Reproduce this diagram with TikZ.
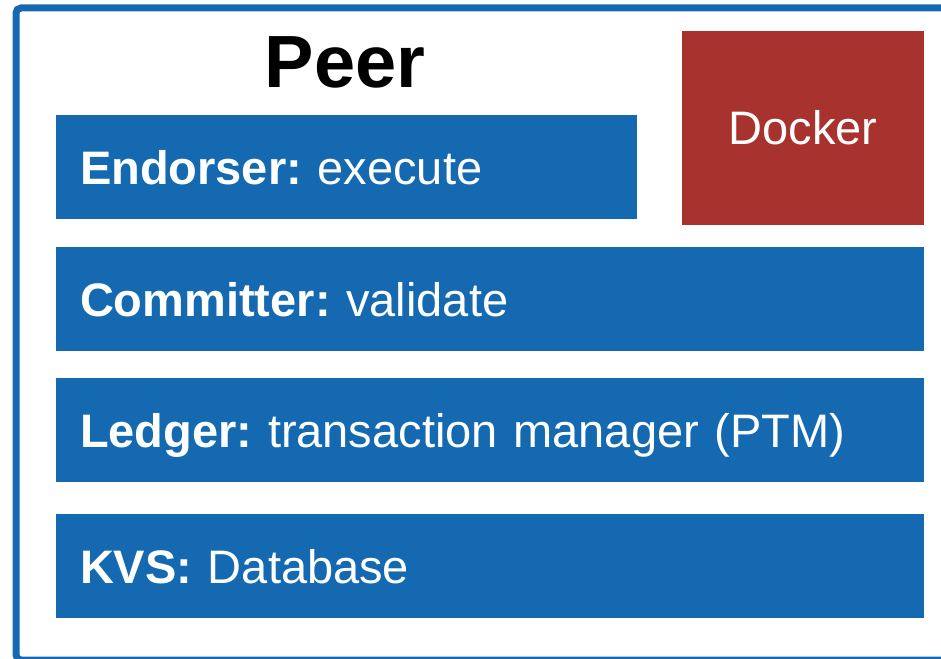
\documentclass[tikz,border=0pt]{standalone}
\usepackage{fontspec}
\setmainfont{Liberation Sans}
\usetikzlibrary{positioning}
\definecolor{peerblue}{RGB}{20,105,176}
\definecolor{dockerred}{RGB}{168,50,46}
\tikzset{every layer/.style={fill=peerblue,text=white,inner xsep=24pt,inner ysep=0pt,
                             text height=34pt,text depth=0pt,minimum height=104pt,align=left,
                             font=\fontsize{47}{56}\selectfont\frenchspacing},
         container/.style={draw=peerblue,line width=7pt,rounded corners=5pt},
         engine/.style={fill=dockerred,text=white,minimum width=242pt,minimum height=194pt,
                        font=\fontsize{47}{56}\selectfont},
        }

\begin{document}
\begin{tikzpicture}[x=1pt,y=-1pt]
        \useasboundingbox (0,0) rectangle (941,658);
        \draw[container](16,8) rectangle (960,660);
        \node[font=\bfseries\fontsize{74}{88}\selectfont,text height=53pt,text depth=0pt,inner sep=0pt](peer)at(345,61.5){Peer};
        \node[every layer,text width=533pt](endorser)at(346.5,167){\textbf{Endorser:} execute};
        \node[engine](docker)at(803,128){Docker};
        \node[every layer,text width=820pt](committer)at(490,299){\textbf{Committer:} validate};
        \node[every layer,text width=820pt](ledger)at(490,430){\textbf{Ledger:} transaction manager (PTM)};
        \node[every layer,text width=820pt](kvs)at(490,566){\textbf{KVS:} Database};
    \end{tikzpicture}
\end{document}
